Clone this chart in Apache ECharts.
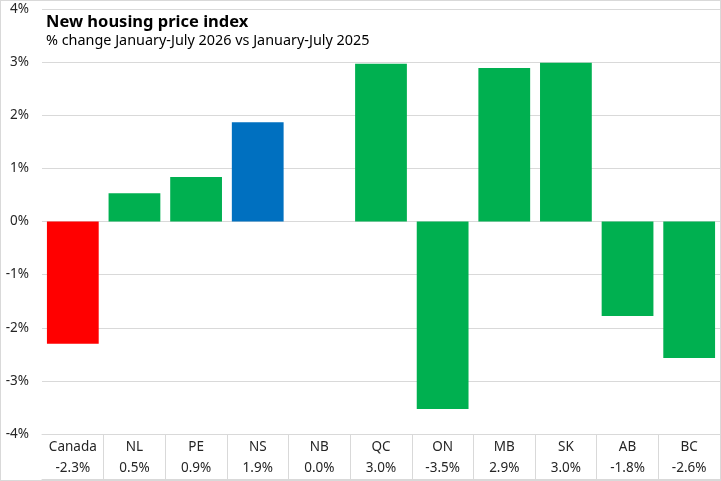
<!DOCTYPE html>
<html>
<head>
<meta charset="utf-8">
<script src="https://cdn.jsdelivr.net/npm/echarts@6/dist/echarts.min.js"></script>
<style>
  html, body { margin: 0; padding: 0; background: #fff; }
  #chart { width: 719px; height: 479px; border: 1px solid #d9d9d9; }
</style>
</head>
<body>
<div id="chart"></div>
<script>
// categories and values
var regions = ['Canada', 'NL', 'PE', 'NS', 'NB', 'QC', 'ON', 'MB', 'SK', 'AB', 'BC'];
var changes = [-2.3, 0.53, 0.84, 1.87, 0.0, 2.97, -3.53, 2.89, 2.99, -1.78, -2.57];
var tableLabels = ['-2.3%', '0.5%', '0.9%', '1.9%', '0.0%', '3.0%', '-3.5%', '2.9%', '3.0%', '-1.8%', '-2.6%'];
var yTicks = [-4, -3, -2, -1, 0, 1, 2, 3, 4];

var barColors = {
    'Canada': '#FF0000',
    'NS': '#0070C0'
};

var chart = echarts.init(document.getElementById('chart'));

var barData = changes.map(function (v, i) {
    return {
        value: v,
        itemStyle: { color: barColors[regions[i]] || '#00B050' }
    };
});

var option = {
    animation: false,
    backgroundColor: '#fff',
    textStyle: { fontFamily: 'Noto Sans' },
    title: {
        text: 'New housing price index',
        subtext: '% change January-July 2026 vs January-July 2025',
        left: 40,
        top: 8,
        itemGap: 3,
        textStyle: { fontSize: 16.5, fontWeight: 'bold', color: '#000', fontFamily: 'Noto Sans' },
        subtextStyle: { fontSize: 14.4, color: '#000', fontFamily: 'Noto Sans' }
    },
    grid: { left: 41, right: 0, top: 8, bottom: 46 },
    xAxis: [{
        type: 'category',
        data: regions,
        position: 'bottom',
        axisLine: { onZero: false, lineStyle: { color: '#d9d9d9' } },
        axisTick: {
            show: true,
            length: 45,
            lineStyle: { color: '#d9d9d9' },
            interval: function (idx) { return idx > 0; }
        },
        axisLabel: {
            interval: 0,
            margin: 3,
            formatter: function (v, i) {
                return '{a|' + v + '}\n{b|' + tableLabels[i] + '}';
            },
            rich: {
                a: { fontSize: 13.5, color: '#262626', lineHeight: 21, fontFamily: 'Noto Sans' },
                b: { fontSize: 13.5, color: '#262626', lineHeight: 21, fontFamily: 'Noto Sans' }
            }
        },
        splitLine: { show: false }
    }, {
        type: 'category',
        data: regions,
        position: 'bottom',
        offset: 45,
        axisLine: { onZero: false, lineStyle: { color: '#d9d9d9' } },
        axisTick: { show: false },
        axisLabel: { show: false }
    }],
    yAxis: {
        type: 'value',
        min: yTicks[0],
        max: yTicks[yTicks.length - 1],
        interval: 1,
        axisLine: { show: false },
        axisTick: { show: false },
        axisLabel: {
            margin: 13,
            fontSize: 13.5,
            color: '#262626',
            formatter: function (v) { return v + '%'; }
        },
        splitLine: { lineStyle: { color: '#d9d9d9' } }
    },
    series: [{
        type: 'bar',
        data: barData,
        barCategoryGap: '16%'
    }]
};

chart.setOption(option);
</script>
</body>
</html>
